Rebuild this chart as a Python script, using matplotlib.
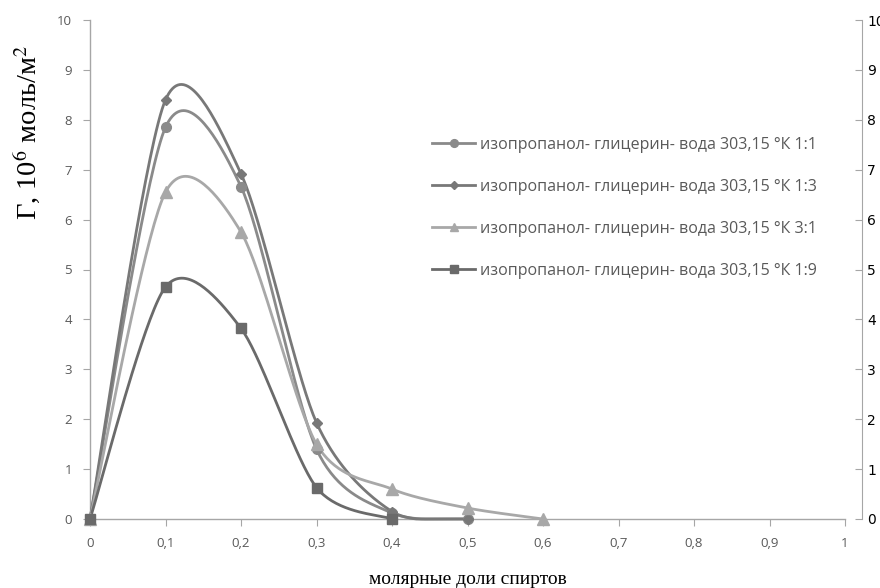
import numpy as np
import matplotlib
matplotlib.use("Agg")
import matplotlib.pyplot as plt

s11_x = [0, 0.1, 0.2, 0.3, 0.4, 0.5]
s11_y = [0, 7.85, 6.66, 1.40, 0.12, 0.0]
s13_x = [0, 0.1, 0.2, 0.3, 0.4, 0.5]
s13_y = [0, 8.40, 6.92, 1.93, 0.15, 0.0]
s31_x = [0, 0.1, 0.2, 0.3, 0.4, 0.5, 0.6]
s31_y = [0, 6.55, 5.75, 1.50, 0.60, 0.22, 0.0]
s19_x = [0, 0.1, 0.2, 0.3, 0.4]
s19_y = [0, 4.65, 3.82, 0.63, 0.0]

labels = ["изопропанол- глицерин- вода 303,15 °К 1:1",
          "изопропанол- глицерин- вода 303,15 °К 1:3",
          "изопропанол- глицерин- вода 303,15 °К 3:1",
          "изопропанол- глицерин- вода 303,15 °К 1:9"]
xticks = [0, 0.1, 0.2, 0.3, 0.4, 0.5, 0.6, 0.7, 0.8, 0.9, 1]
xtick_labels = ["0", "0,1", "0,2", "0,3", "0,4", "0,5", "0,6", "0,7", "0,8", "0,9", "1"]
yticks = list(range(0, 11))

colors = ["#8a8a8a", "#787878", "#a8a8a8", "#6a6a6a"]
markers = ["o", "D", "^", "s"]
msizes = [7, 5.5, 8, 7.5]

sans = ["Open Sans", "DejaVu Sans"]
serif = ["Liberation Serif", "DejaVu Serif"]
plt.rcParams["mathtext.fontset"] = "stix"


def smooth(xs, ys, k=0.14, n=40):
    # smoothed line through the points (cardinal Bezier, like Excel's)
    P = np.column_stack([xs, ys]).astype(float)
    out = [P[0]]
    m = len(P)
    for i in range(m - 1):
        p0 = P[i - 1] if i > 0 else P[i]
        p1 = P[i]
        p2 = P[i + 1]
        p3 = P[i + 2] if i + 2 < m else P[i + 1]
        c1 = p1 + (p2 - p0) * k
        c2 = p2 - (p3 - p1) * k
        t = np.linspace(0, 1, n)[1:, None]
        seg = ((1 - t) ** 3) * p1 + 3 * ((1 - t) ** 2) * t * c1 + 3 * (1 - t) * t ** 2 * c2 + t ** 3 * p2
        out.extend(seg)
    out = np.array(out)
    return out[:, 0], np.maximum(out[:, 1], 0.0)


fig = plt.figure(figsize=(8.8, 5.88), dpi=100)
fig.patch.set_facecolor("white")
ax = fig.add_axes([90 / 880, 69 / 588, 755 / 880, 499 / 588])
ax.set_xlim(0, 1)
ax.set_ylim(0, 10)

series = [(s11_x, s11_y), (s13_x, s13_y), (s31_x, s31_y), (s19_x, s19_y)]
handles = []
for (xs, ys), c, m, ms, lab in zip(series, colors, markers, msizes, labels):
    sx, sy = smooth(xs, ys)
    ax.plot(sx, sy, color=c, lw=2.0, solid_capstyle="round", zorder=3, clip_on=False)
    ax.plot(xs, ys, ls="none", marker=m, ms=ms, color=c, zorder=4, clip_on=False)
    h, = ax.plot([], [], color=c, lw=2.0, marker=m, ms=ms * 0.8)
    handles.append(h)

ax.set_xticks(xticks)
ax.set_xticklabels(xtick_labels, family=sans, fontsize=9.5, color="#595959")
ax.set_yticks(yticks)
ax.set_yticklabels([str(v) for v in yticks], family=sans, fontsize=9.5, color="#595959")
for s in ["top", "right"]:
    ax.spines[s].set_visible(False)
for s in ["left", "bottom"]:
    ax.spines[s].set_color("#a6a6a6")
    ax.spines[s].set_linewidth(1.0)
ax.tick_params(axis="y", direction="out", length=5, color="#a6a6a6", pad=8)
ax.tick_params(axis="x", direction="out", length=5, color="#a6a6a6", pad=8)

ax2 = ax.twinx()
ax2.set_ylim(0, 10)
ax2.set_yticks(yticks)
ax2.set_yticklabels([str(v) for v in yticks], family=sans, fontsize=9.5, color="#595959")
for s in ["top", "left", "bottom"]:
    ax2.spines[s].set_visible(False)
ax2.spines["right"].set_position(("outward", 12))
ax2.spines["right"].set_color("#a6a6a6")
ax2.tick_params(axis="y", direction="in", length=5, color="#a6a6a6", pad=4)

ax.set_ylabel(r"Г, 10$^{6}$ моль/м$^{2}$", family=serif, fontsize=20.5)
ax.yaxis.set_label_coords(-0.064, 0.774)
ax.set_xlabel("молярные доли спиртов", family=serif, fontsize=14, labelpad=15)

leg = ax.legend(handles, labels, loc="upper left", bbox_to_anchor=(432 / 880, 1 - 136.5 / 588),
                bbox_transform=fig.transFigure, frameon=False, prop={"family": sans, "size": 11.5},
                labelspacing=1.64, handlelength=2.7, handletextpad=0.3, borderpad=0,
                borderaxespad=0)
for t in leg.get_texts():
    t.set_color("#595959")

fig.savefig("out.png", dpi=100)
